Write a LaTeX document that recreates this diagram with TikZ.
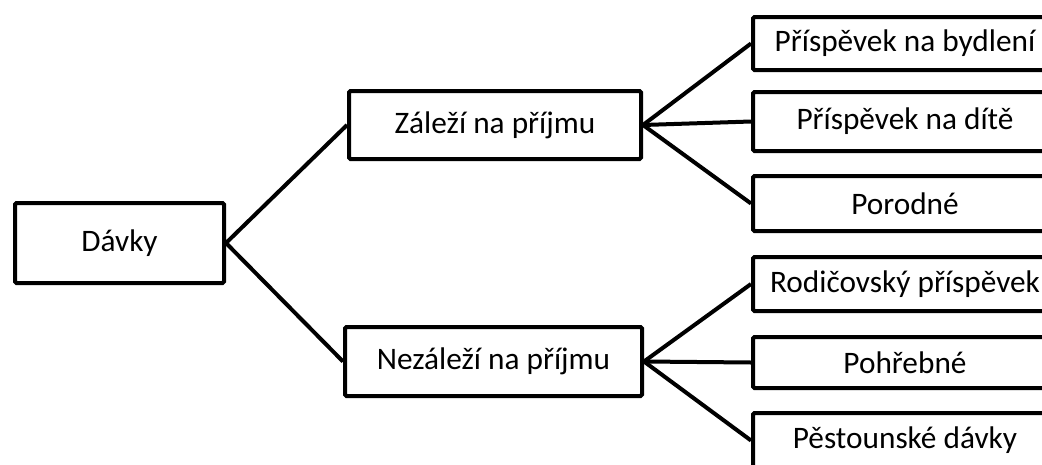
\documentclass[tikz,border=0pt]{standalone}
\usepackage{fontspec}
\setmainfont{Carlito}
\begin{document}
\begin{tikzpicture}[x=1pt,y=-1pt,
  box/.style={draw=black, line width=4pt, rounded corners=1.5pt, fill=white,
    inner sep=0pt, align=center, font=\fontsize{31.3}{36}\selectfont},
  link/.style={draw=black, line width=4pt}]
\clip (0,0) rectangle (1042,464);
\fill[white] (0,0) rectangle (1042,464);
% root
\node[box, minimum width=209pt, minimum height=80pt] (dav) at (119.5,243) {Dávky};
% middle level
\node[box, minimum width=292pt, minimum height=68pt] (zal) at (495,125) {Záleží na příjmu};
\node[box, minimum width=297pt, minimum height=69pt] (nez) at (493.5,361.5) {Nezáleží na příjmu};
% leaves
\node[box, minimum width=304pt, minimum height=53pt] (byd) at (905,43.5) {Příspěvek na bydlení};
\node[box, minimum width=304pt, minimum height=59pt] (dit) at (905,121.5) {Příspěvek na dítě};
\node[box, minimum width=304pt, minimum height=55pt] (por) at (905,203.5) {Porodné};
\node[box, minimum width=304pt, minimum height=54pt] (rod) at (905,284) {Rodičovský příspěvek};
\node[box, minimum width=304pt, minimum height=51pt] (poh) at (905,362.5) {Pohřebné};
\node[box, minimum width=304pt, minimum height=55pt] (pes) at (905,440.5) {Pěstounské dávky};
% connectors
\draw[link] (dav.east) -- (zal.west);
\draw[link] (dav.east) -- (nez.west);
\draw[link] (zal.east) -- (byd.west);
\draw[link] (zal.east) -- (dit.west);
\draw[link] (zal.east) -- (por.west);
\draw[link] (nez.east) -- (rod.west);
\draw[link] (nez.east) -- (poh.west);
\draw[link] (nez.east) -- (pes.west);
\end{tikzpicture}
\end{document}
